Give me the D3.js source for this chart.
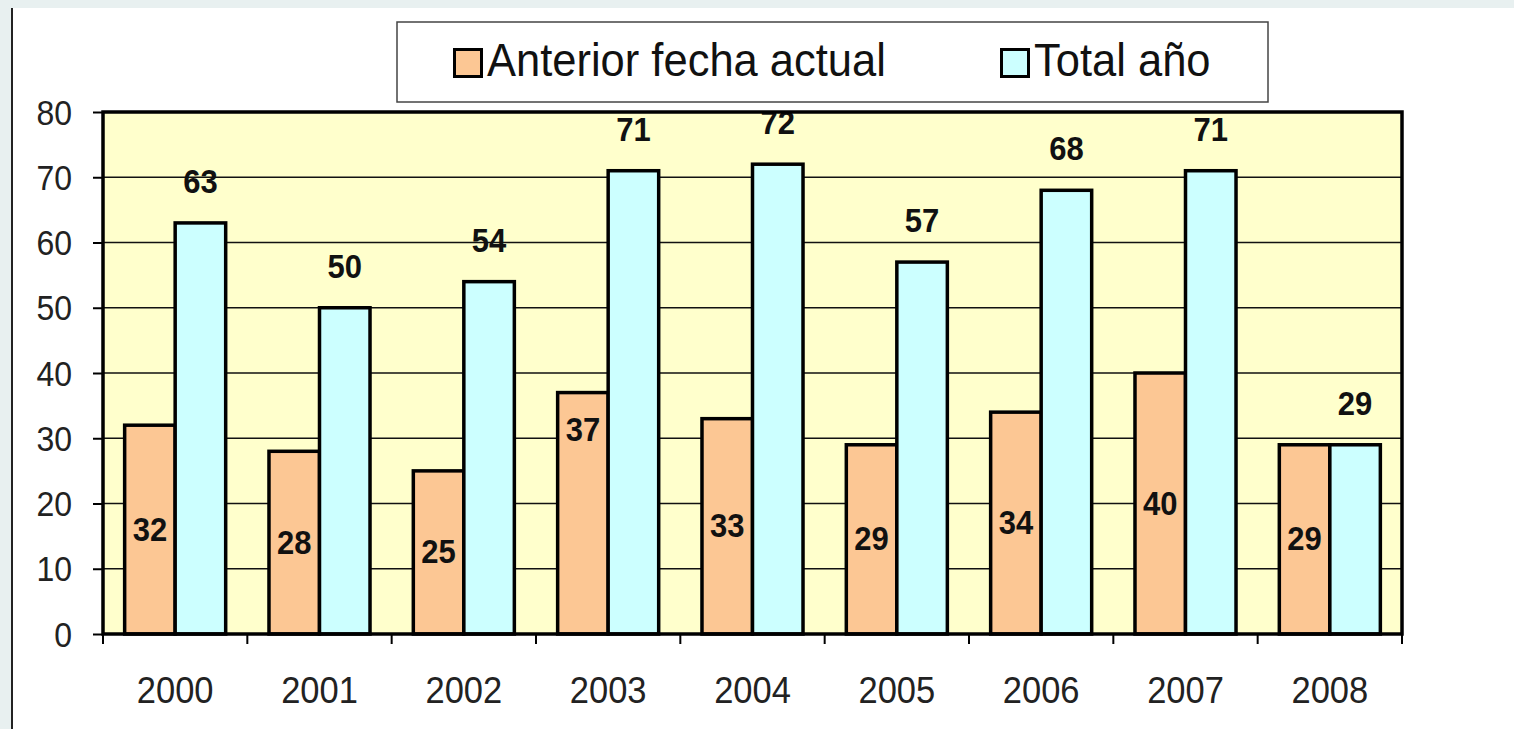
<!DOCTYPE html>
<html>
<head>
<meta charset="utf-8">
<script src="https://cdn.jsdelivr.net/npm/d3@7"></script>
<style>
  html, body { margin: 0; padding: 0; background: #ffffff; }
  svg { display: block; font-family: Arial, "Liberation Sans", sans-serif; }
</style>
</head>
<body>
<div id="chart"></div>
<script>
// data
const years = ['2000','2001','2002','2003','2004','2005','2006','2007','2008']
const anterior = [32, 28, 25, 37, 33, 29, 34, 40, 29]
const totalAnio = [63, 50, 54, 71, 72, 57, 68, 71, 29]
const seriesNames = ['Anterior fecha actual', 'Total año']
const yTicks = [0, 10, 20, 30, 40, 50, 60, 70, 80]

const W = 1514, H = 729
// plot area
const plotL = 103, plotR = 1402, plotT = 112, plotB = 634
const colors = ['#FCC794', '#CCFFFF']
const stretch = 'scale(1,1.08)'   // the source text is a bit taller than wide
const labelNudge = { '2003': -83 } // 2003 label sits higher in the original

const svg = d3.select('#chart').append('svg')
  .attr('width', W)
  .attr('height', H)

// grey window frame
svg.append('rect').attr('x', 0).attr('y', 0).attr('width', W).attr('height', 8).attr('fill', '#e8f0f0')
svg.append('rect').attr('x', 0).attr('y', 0).attr('width', 11).attr('height', H).attr('fill', '#e8f0f0')
svg.append('line').attr('x1', 12).attr('x2', 12).attr('y1', 8).attr('y2', H)
  .attr('stroke', '#222').attr('stroke-width', 2)

const y = d3.scaleLinear().domain([0, 80]).range([plotB, plotT])
const x0 = d3.scaleBand().domain(years).range([plotL, plotR]).padding(0)
const bw = x0.bandwidth()
const x1 = d3.scaleBand().domain(seriesNames).range([bw * 0.15, bw * 0.85]).padding(0)

// plot area fill
svg.append('rect')
  .attr('x', plotL).attr('y', plotT)
  .attr('width', plotR - plotL).attr('height', plotB - plotT)
  .attr('fill', '#FFFFCC')

// gridlines
svg.append('g').selectAll('line')
  .data(yTicks.filter(d => d > 0 && d < 80))
  .enter().append('line')
  .attr('x1', plotL).attr('x2', plotR)
  .attr('y1', d => y(d)).attr('y2', d => y(d))
  .attr('stroke', '#111').attr('stroke-width', 1.6)

const rows = years.map((yr, i) => ({ year: yr, values: [anterior[i], totalAnio[i]] }))

// bars
const groups = svg.append('g').selectAll('g')
  .data(rows)
  .enter().append('g')
  .attr('transform', d => 'translate(' + x0(d.year) + ',0)')

groups.selectAll('rect')
  .data(d => d.values.map((v, k) => ({ year: d.year, key: seriesNames[k], k: k, value: v })))
  .enter().append('rect')
  .attr('x', d => x1(d.key))
  .attr('y', d => y(d.value))
  .attr('width', x1.bandwidth())
  .attr('height', d => plotB - y(d.value))
  .attr('fill', d => colors[d.k])
  .attr('stroke', '#000')
  .attr('stroke-width', 3.5)

// plot border
svg.append('rect')
  .attr('x', plotL).attr('y', plotT)
  .attr('width', plotR - plotL).attr('height', plotB - plotT)
  .attr('fill', 'none')
  .attr('stroke', '#000').attr('stroke-width', 3.5)

// data labels
groups.selectAll('text')
  .data(d => d.values.map((v, k) => ({ year: d.year, key: seriesNames[k], k: k, value: v })))
  .enter().append('text')
  .attr('transform', d => {
    const cx = x1(d.key) + x1.bandwidth() / 2
    let cy
    if (d.k === 0) cy = y(d.value / 2) + (labelNudge[d.year] || 0)
    else cy = y(d.value) - 41
    return 'translate(' + cx + ',' + (cy + 11) + ') ' + stretch
  })
  .attr('text-anchor', 'middle')
  .attr('font-weight', 'bold')
  .attr('font-size', 31)
  .attr('fill', '#111')
  .text(d => d.value)

// y axis
const yAxis = svg.append('g')
  .attr('transform', 'translate(' + plotL + ',0)')
  .call(d3.axisLeft(y).tickValues(yTicks).tickSize(10).tickPadding(31))
yAxis.select('.domain').remove()
yAxis.selectAll('line').attr('stroke', '#000').attr('stroke-width', 2)
yAxis.selectAll('text')
  .attr('dy', null).attr('x', null)
  .attr('transform', 'translate(-31,12) ' + stretch)
  .attr('font-size', 32)
  .attr('font-family', 'Arial, "Liberation Sans", sans-serif')
  .attr('fill', '#222')

// x axis: labels from the band scale, ticks at category boundaries
const xAxis = svg.append('g')
  .attr('transform', 'translate(0,' + plotB + ')')
  .call(d3.axisBottom(x0).tickSize(0).tickPadding(0))
xAxis.select('.domain').remove()
xAxis.selectAll('text')
  .attr('dy', null).attr('y', null)
  .attr('transform', 'translate(0,69) ' + stretch)
  .attr('font-size', 34.5)
  .attr('font-family', 'Arial, "Liberation Sans", sans-serif')
  .attr('fill', '#222')

svg.append('g').selectAll('line')
  .data(years.concat(['end']))
  .enter().append('line')
  .attr('x1', (d, i) => plotL + i * x0.step())
  .attr('x2', (d, i) => plotL + i * x0.step())
  .attr('y1', plotB).attr('y2', plotB + 10)
  .attr('stroke', '#000').attr('stroke-width', 2)

// legend
const legend = svg.append('g')
legend.append('rect')
  .attr('x', 397).attr('y', 22)
  .attr('width', 871).attr('height', 80)
  .attr('fill', '#fff')
  .attr('stroke', '#444').attr('stroke-width', 1.5)

const legendX = [453, 1000]
const items = legend.selectAll('.leg')
  .data(seriesNames)
  .enter().append('g')
  .attr('class', 'leg')
  .attr('transform', (d, i) => 'translate(' + legendX[i] + ',0)')

items.append('rect')
  .attr('x', 1.5).attr('y', 49.5)
  .attr('width', 27).attr('height', 27)
  .attr('fill', (d, i) => colors[i])
  .attr('stroke', '#000').attr('stroke-width', 3)

items.append('text')
  .attr('transform', 'translate(34,76) ' + stretch)
  .attr('font-size', 43.5)
  .attr('fill', '#111')
  .text(d => d)
</script>
</body>
</html>
